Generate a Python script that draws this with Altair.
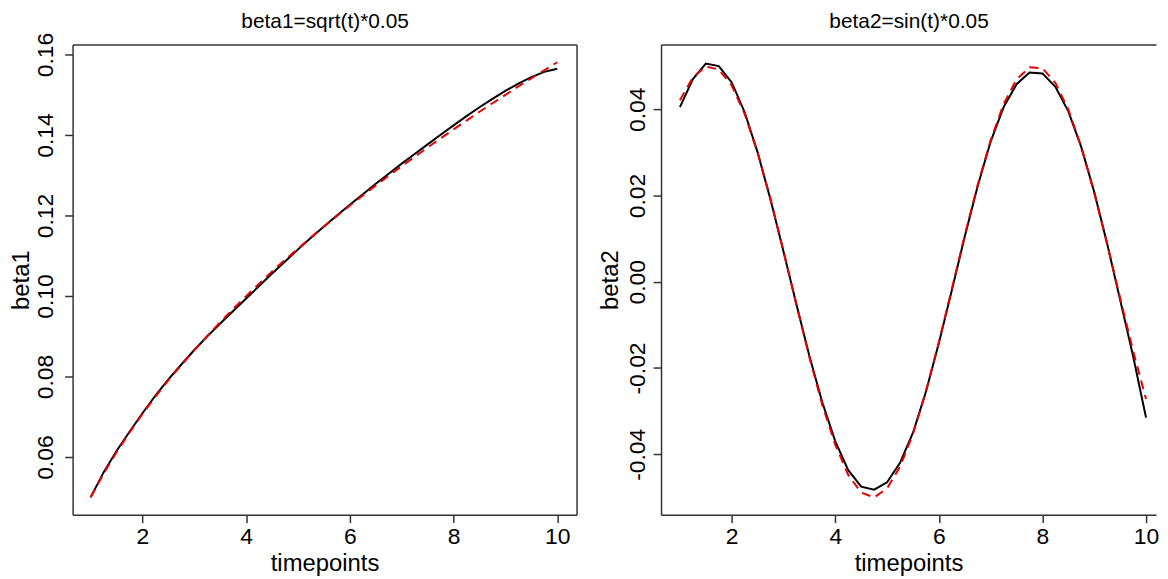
import altair as alt
import pandas as pd

FONT = "Liberation Sans"

timepoints = [1.0, 1.25, 1.5, 1.75, 2.0, 2.25, 2.5, 2.75, 3.0, 3.25, 3.5, 3.75,
              4.0, 4.25, 4.5, 4.75, 5.0, 5.25, 5.5, 5.75, 6.0, 6.25, 6.5, 6.75,
              7.0, 7.25, 7.5, 7.75, 8.0, 8.25, 8.5, 8.75, 9.0, 9.25, 9.5, 9.75, 10.0]

beta1_true = [0.0500, 0.0559, 0.0612, 0.0661, 0.0707, 0.0750, 0.0791, 0.0829,
              0.0866, 0.0901, 0.0935, 0.0968, 0.1000, 0.1031, 0.1061, 0.1090,
              0.1118, 0.1146, 0.1173, 0.1199, 0.1225, 0.1250, 0.1275, 0.1299,
              0.1323, 0.1346, 0.1369, 0.1392, 0.1414, 0.1436, 0.1458, 0.1479,
              0.1500, 0.1521, 0.1541, 0.1561, 0.1581]

beta1_est = [0.0500, 0.0562, 0.0615, 0.0663, 0.0709, 0.0753, 0.0793, 0.0830,
             0.0866, 0.0900, 0.0932, 0.0963, 0.0994, 0.1025, 0.1056, 0.1086,
             0.1116, 0.1145, 0.1173, 0.1200, 0.1227, 0.1253, 0.1279, 0.1304,
             0.1329, 0.1353, 0.1377, 0.1401, 0.1424, 0.1447, 0.1469, 0.1490,
             0.1510, 0.1528, 0.1544, 0.1557, 0.1565]

beta2_true = [0.0421, 0.0474, 0.0499, 0.0492, 0.0455, 0.0389, 0.0299, 0.0191,
              0.0071, -0.0054, -0.0175, -0.0286, -0.0378, -0.0448, -0.0489, -0.0500,
              -0.0479, -0.0429, -0.0353, -0.0254, -0.0140, -0.0017, 0.0108, 0.0225,
              0.0328, 0.0412, 0.0469, 0.0497, 0.0495, 0.0461, 0.0399, 0.0312,
              0.0206, 0.0087, -0.0038, -0.0160, -0.0272]

beta2_est = [0.0405, 0.0470, 0.0506, 0.0500, 0.0462, 0.0393, 0.0300, 0.0190,
             0.0070, -0.0053, -0.0172, -0.0280, -0.0370, -0.0437, -0.0475, -0.0482,
             -0.0465, -0.0420, -0.0350, -0.0255, -0.0142, -0.0020, 0.0105, 0.0222,
             0.0325, 0.0405, 0.0458, 0.0485, 0.0483, 0.0452, 0.0395, 0.0312,
             0.0208, 0.0088, -0.0042, -0.0172, -0.0315]

x_ticks = [2, 4, 6, 8, 10]
y1_ticks = [0.06, 0.08, 0.10, 0.12, 0.14, 0.16]
y2_ticks = [-0.04, -0.02, 0.00, 0.02, 0.04]

LABEL_EXPR = ("datum.value < 0 ? '-' + format(-datum.value, '.2f') : "
              "format(datum.value, '.2f')")


def panel(est, true, title, ytitle, xdom, ydom, yticks, w, h, right_frame, ylp):
    d_est = pd.DataFrame({"t": timepoints, "value": est})
    d_true = pd.DataFrame({"t": timepoints, "value": true})
    xs = alt.Scale(domain=xdom, nice=False, zero=False)
    ys = alt.Scale(domain=ydom, nice=False, zero=False)

    x_main = alt.X("t:Q", scale=xs,
                   axis=alt.Axis(values=x_ticks, format="d", title="timepoints",
                                 labelPadding=3, labelFlush=False,
                                 titleX=w / 2, titleY=56, titleBaseline="alphabetic",
                                 titleAlign="center"))
    y_main = alt.Y("value:Q", scale=ys,
                   axis=alt.Axis(values=yticks, title=ytitle, labelAngle=270,
                                 labelAlign="center", labelBaseline="alphabetic",
                                 labelPadding=ylp, labelFlush=False, labelOverlap=False,
                                 labelExpr=LABEL_EXPR,
                                 titleAngle=270, titleAlign="center",
                                 titleBaseline="middle", titleX=-51, titleY=h / 2))
    # top edge of the box, carrying the panel title
    x_frame = alt.X("t:Q", scale=xs,
                    axis=alt.Axis(labels=False, ticks=False, domain=True,
                                  title=title, titleFontSize=21, titleX=w / 2,
                                  titleY=-17, titleBaseline="alphabetic",
                                  titleAlign="center", titleAngle=0,
                                  minExtent=0, maxExtent=0))
    if right_frame:
        y_frame = alt.Y("value:Q", scale=ys,
                        axis=alt.Axis(labels=False, ticks=False, domain=True,
                                      title=None, minExtent=0, maxExtent=0))
    else:
        y_frame = alt.Y("value:Q", scale=ys, axis=None)

    black = alt.Chart(d_est).mark_line(color="black", strokeWidth=2).encode(
        x=x_main, y=y_main)
    red = alt.Chart(d_true).mark_line(color="#e60000", strokeWidth=2,
                                      strokeDash=[9, 6]).encode(x=x_frame, y=y_frame)
    return alt.layer(black, red).resolve_axis(
        x="independent", y="independent").properties(width=w, height=h)


left = panel(beta1_est, beta1_true, "beta1=sqrt(t)*0.05", "beta1",
             [0.653, 10.372], [0.0457, 0.1625], y1_ticks, 507, 473, True, 12)
right = panel(beta2_est, beta2_true, "beta2=sin(t)*0.05", "beta2",
              [0.635, 10.193], [-0.0540, 0.0550], y2_ticks, 498, 473, False, 9)

chart = alt.hconcat(left, right, spacing=85, bounds="flush").properties(
    padding={"left": 1, "top": 0, "right": 0, "bottom": 0}
).configure_axis(
    labelFont=FONT, titleFont=FONT, labelFontSize=23, titleFontSize=24,
    labelColor="black", titleColor="black", titleFontWeight="normal",
    tickColor="#333333", tickSize=8, tickWidth=1.5,
    domainColor="#333333", domainWidth=1.5, grid=False
).configure_view(stroke="transparent")

chart.save("out.html", embed_options={"renderer": "svg", "actions": False})
